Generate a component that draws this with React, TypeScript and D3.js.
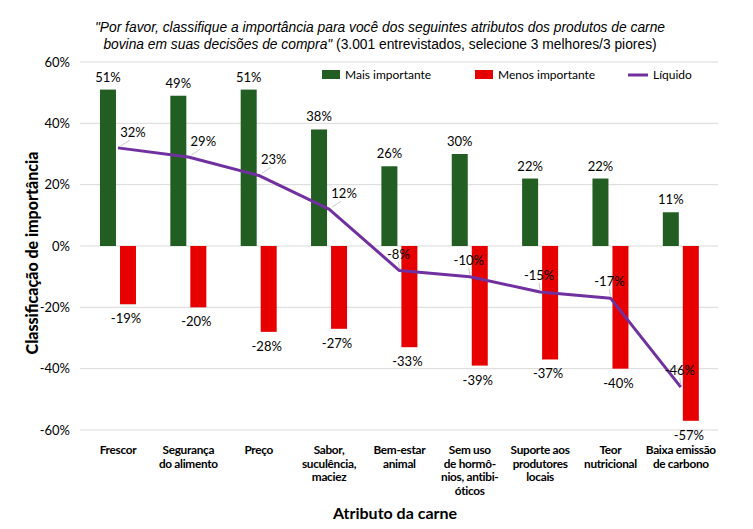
import React from "react";
import * as d3 from "d3";

const categories: string[][] = [
  ["Frescor"],
  ["Segurança", "do alimento"],
  ["Preço"],
  ["Sabor,", "suculência,", "maciez"],
  ["Bem-estar", "animal"],
  ["Sem uso", "de hormô-", "nios, antibi-", "óticos"],
  ["Suporte aos", "produtores", "locais"],
  ["Teor", "nutricional"],
  ["Baixa emissão", "de carbono"],
];
const maisImportante = [51, 49, 51, 38, 26, 30, 22, 22, 11];
const menosImportante = [-19, -20, -28, -27, -33, -39, -37, -40, -57];
const liquido = [32, 29, 23, 12, -8, -10, -15, -17, -46];
const yTicks = [60, 40, 20, 0, -20, -40, -60];

const W = 753;
const H = 529;
const GREEN = "#225e22";
const RED = "#e60000";
const PURPLE = "#7030a0";
const FONT = "Lato, 'Noto Sans', sans-serif";

export default function App() {
  const idx = categories.map((_, i) => String(i));
  const x = d3.scaleBand<string>().domain(idx).range([82.8, 716]).padding(0);
  const y = d3.scaleLinear().domain([-60, 60]).range([430, 62]);
  const cx = (i: number) => (x(String(i)) as number) + x.bandwidth() / 2;
  const barW = 16;
  const line = d3
    .line<number>()
    .x((_, i) => cx(i))
    .y((d) => y(d));

  return (
    <svg width={W} height={H} style={{ display: "block", position: "absolute", left: 0, top: 0 }}>
      <rect width={W} height={H} fill="#fff" />
      {/* Title */}
      <text x={380} y={32} textAnchor="middle" fontFamily="'Liberation Sans', Arial, sans-serif" fontSize={13.8} fill="#000">
        <tspan fontStyle="italic">"Por favor, classifique a importância para você dos seguintes atributos dos produtos de carne</tspan>
      </text>
      <text x={380} y={49} textAnchor="middle" fontFamily="'Liberation Sans', Arial, sans-serif" fontSize={13.8} fill="#000">
        <tspan fontStyle="italic">bovina em suas decisões de compra"</tspan>
        <tspan> (3.001 entrevistados, selecione 3 melhores/3 piores)</tspan>
      </text>

      {/* gridlines */}
      {yTicks.map((t) => (
        <g key={t}>
          <line x1={80} x2={718} y1={y(t)} y2={y(t)} stroke="#d9d9d9" strokeWidth={1} />
          <text x={70} y={y(t) + 4.5} textAnchor="end" fontFamily={FONT} fontSize={13} fill="#000">
            {t}%
          </text>
        </g>
      ))}

      {/* Y axis title */}
      <text
        transform={`translate(38,253) rotate(-90)`}
        textAnchor="middle"
        fontFamily={FONT}
        fontWeight="900"
        fontSize={16}
        fill="#000"
      >
        Classificação de importância
      </text>

      {/* Bars */}
      {maisImportante.map((v, i) => (
        <g key={"m" + i}>
          <rect x={cx(i) - 2 - barW} y={y(v)} width={barW} height={y(0) - y(v)} fill={GREEN} />
          <text x={cx(i) - 2 - barW / 2} y={y(v) - 8} textAnchor="middle" fontFamily={FONT} fontSize={13} fill="#000">
            {v}%
          </text>
        </g>
      ))}
      {menosImportante.map((v, i) => (
        <g key={"n" + i}>
          <rect x={cx(i) + 2} y={y(0)} width={barW} height={y(v) - y(0)} fill={RED} />
          <text x={cx(i) + 2 + barW / 2 - 2} y={y(v) + 19} textAnchor="middle" fontFamily={FONT} fontSize={13} fill="#000">
            {v}%
          </text>
        </g>
      ))}

      {/* Net line */}
      <path d={line(liquido) || ""} fill="none" stroke={PURPLE} strokeWidth={3} strokeLinejoin="round" />
      {liquido.map((v, i) => {
        const px = cx(i);
        const py = y(v);
        const pos = v >= 0;
        const lx = pos ? px + 15 : px - 1;
        const ly = pos ? py - 11 : py - 12;
        return (
          <g key={"l" + i}>
            <line
              x1={px + (pos ? 3 : 0)}
              y1={py - 2}
              x2={pos ? px + 12 : px - 1}
              y2={pos ? py - 8 : py - 9}
              stroke="#bfbfbf"
              strokeWidth={0.8}
            />
            <text x={lx} y={ly} textAnchor="middle" fontFamily={FONT} fontSize={13} fill="#000">
              {v}%
            </text>
          </g>
        );
      })}

      {/* Legend */}
      <rect x={322} y={70} width={18} height={9} fill={GREEN} />
      <text x={345} y={79} fontFamily={FONT} fontSize={12} fill="#000">Mais importante</text>
      <rect x={475} y={70} width={18} height={9} fill={RED} />
      <text x={498} y={79} fontFamily={FONT} fontSize={12} fill="#000">Menos importante</text>
      <line x1={628} x2={648} y1={75} y2={75} stroke={PURPLE} strokeWidth={3} />
      <text x={653} y={79} fontFamily={FONT} fontSize={12} fill="#000">Líquido</text>

      {/* X category labels */}
      {categories.map((lines, i) => (
        <text key={"c" + i} textAnchor="middle" fontFamily={FONT} fontWeight="bold" fontSize={11.8} fill="#000" letterSpacing={-0.3}>
          {lines.map((ln, j) => (
            <tspan key={j} x={cx(i)} y={454 + j * 13.5}>
              {ln}
            </tspan>
          ))}
        </text>
      ))}

      {/* X axis title */}
      <text x={395} y={519} textAnchor="middle" fontFamily={FONT} fontWeight="bold" fontSize={16} fill="#000">
        Atributo da carne
      </text>
    </svg>
  );
}
